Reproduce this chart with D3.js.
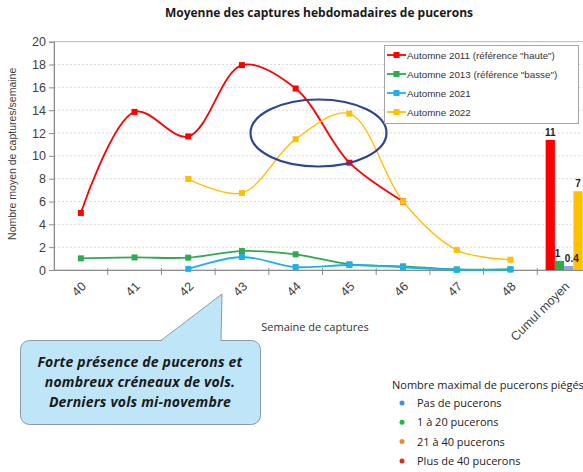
<!DOCTYPE html>
<html><head><meta charset="utf-8">
<script src="https://cdn.jsdelivr.net/npm/d3@7"></script>
<style>body{margin:0;background:#fff}svg{display:block}</style>
</head><body>
<script>
// ---- data ----
const weeks = ["40","41","42","43","44","45","46","47","48"];
const categories = ["40","41","42","43","44","45","46","47","48","Cumul moyen"];
const seriesNames = ["Automne 2011 (référence \"haute\")","Automne 2013 (référence \"basse\")","Automne 2021","Automne 2022"];
const s2011 = [5.0, 13.85, 11.7, 17.95, 15.9, 9.4, 6.0, null, null];
const s2013 = [1.02, 1.1, 1.08, 1.66, 1.37, 0.5, 0.32, 0.05, 0.05];
const s2021 = [null, null, 0.1, 1.14, 0.26, 0.44, 0.24, 0.02, 0.06];
const s2022 = [null, null, 7.97, 6.75, 11.46, 13.7, 6.0, 1.75, 0.9];
const cumulValues = [11.4, 0.8, 0.35, 6.9];
const cumulLabels = ["11", "1", "0.4", "7"];
const yTicks = [0,2,4,6,8,10,12,14,16,18,20];
const calloutLines = ["Forte présence de pucerons et","nombreux créneaux de vols.","Derniers vols mi-novembre"];
const legend2Title = "Nombre maximal de pucerons piégés";
const legend2Items = ["Pas de pucerons","1 à 20 pucerons","21 à 40 pucerons","Plus de 40 pucerons"];

const lineColors = ["#FF0000","#2EAA50","#1CB2EC","#FFC000"];
const barColors = ["#FF0000","#2EAA50","#8FA6D8","#FFC000"];
const legend2Colors = ["#3D8FE0","#1DB64A","#F08A24","#D9301E"];

(function(){
const W = 583, H = 472;
const svg = d3.select("body").append("svg").attr("width", W).attr("height", H)
  .style("font-family","'Liberation Sans', Arial, sans-serif");

const pL = 54, pR = 591, pT = 41.7, pB = 270;
const x = d3.scaleBand().domain(categories).range([pL, pR]).padding(0);
const y = d3.scaleLinear().domain([0, 20]).range([pB, pT]);
const cx = c => x(c) + x.bandwidth()/2;

// title
svg.append("text").attr("x", 319).attr("y", 17).attr("text-anchor","middle")
  .style("font-family","'Open Sans', sans-serif").style("font-weight","bold").style("font-size","12px")
  .attr("fill","#1a1a1a").text("Moyenne des captures hebdomadaires de pucerons");

// gridlines
svg.append("g").selectAll("line").data(yTicks.filter(t => t>0 && t<20)).join("line")
  .attr("x1", pL).attr("x2", pR).attr("y1", d=>y(d)).attr("y2", d=>y(d))
  .attr("stroke","#cfcfcf").attr("stroke-dasharray","2,2").attr("stroke-width",0.8);
svg.append("rect").attr("x", pL).attr("y", pT).attr("width", pR-pL).attr("height", pB-pT)
  .attr("fill","none").attr("stroke","#b8b8b8").attr("stroke-width",1);

// y axis
const yAxis = d3.axisLeft(y).tickValues(yTicks).tickSize(5).tickPadding(3);
const gy = svg.append("g").attr("transform",`translate(${pL},0)`).call(yAxis);
gy.select(".domain").attr("stroke","#8c8c8c");
gy.selectAll(".tick line").attr("stroke","#8c8c8c");
gy.selectAll(".tick text").attr("fill","#404040").style("font-size","12.5px").style("font-family","'Liberation Sans', Arial, sans-serif");

// x axis
const xAxis = d3.axisBottom(x).tickSize(0).tickFormat(d=>d);
const gx = svg.append("g").attr("transform",`translate(0,${pB})`).call(xAxis);
gx.select(".domain").attr("stroke","#8c8c8c");
gx.selectAll(".tick text")
  .attr("fill","#404040").style("font-size","12.5px").style("font-family","'Liberation Sans', Arial, sans-serif")
  .attr("text-anchor","end").attr("dy", "0.35em").attr("x",0).attr("y",0)
  .attr("transform","translate(3,14) rotate(-45)");
svg.append("g").selectAll("line").data(categories.slice(1)).join("line")
  .attr("x1", d=>x(d)).attr("x2", d=>x(d)).attr("y1", pB-2).attr("y2", pB+5)
  .attr("stroke","#8c8c8c");

// axis titles
svg.append("text").attr("transform",`translate(16,${(pT+pB)/2 - 2}) rotate(-90)`).attr("text-anchor","middle")
  .style("font-size","10.5px").attr("fill","#404040").text("Nombre moyen de captures/semaine");
svg.append("text").attr("x", 315).attr("y", 331).attr("text-anchor","middle")
  .style("font-family","'Open Sans', sans-serif").style("font-size","11px").attr("fill","#333").text("Semaine de captures");

// bars
const xb = d3.scaleBand().domain(d3.range(cumulValues.length)).range([0, x.bandwidth()]).paddingOuter(0.9).paddingInner(0);
const gb = svg.append("g").attr("transform",`translate(${x("Cumul moyen")},0)`);
gb.selectAll("rect").data(cumulValues).join("rect")
  .attr("x",(d,i)=>xb(i)).attr("width", xb.bandwidth()).attr("y", d=>y(d)).attr("height", d=>pB-y(d))
  .attr("fill",(d,i)=>barColors[i]);
gb.selectAll("text").data(cumulValues).join("text")
  .attr("x",(d,i)=>xb(i)+xb.bandwidth()/2 + (i===1?-2:(i===2?3:0))).attr("y", d=>y(d)-4)
  .attr("text-anchor","middle").style("font-size","10px").style("font-weight","bold").attr("fill","#222")
  .text((d,i)=>cumulLabels[i]);

// lines
const allSeries = [s2011, s2013, s2021, s2022];
const widths = [1.8, 1.8, 1.8, 1.4];
const line = d3.line().x(d=>cx(d.c)).y(d=>y(d.v)).curve(d3.curveCatmullRom.alpha(0.5));
const drawOrder = [0,3,1,2];
drawOrder.forEach(si => {
  const pts = weeks.map((c,i)=>({c, v: allSeries[si][i]})).filter(p=>p.v!==null);
  svg.append("path").datum(pts).attr("d", line).attr("fill","none")
    .attr("stroke", lineColors[si]).attr("stroke-width", widths[si]);
});
drawOrder.forEach(si => {
  const pts = weeks.map((c,i)=>({c, v: allSeries[si][i]})).filter(p=>p.v!==null);
  svg.append("g").selectAll("rect").data(pts).join("rect")
    .attr("x", d=>cx(d.c)-3).attr("y", d=>y(d.v)-3).attr("width",6).attr("height",6)
    .attr("fill", lineColors[si]);
});

// ellipse annotation
svg.append("ellipse").attr("cx", (cx("44")+cx("45"))/2 - 4).attr("cy", y(12)).attr("rx", 68).attr("ry", 33.5)
  .attr("fill","none").attr("stroke","#2F4593").attr("stroke-width",2.2);

// legend
const lg = svg.append("g");
lg.append("rect").attr("x", 384.5).attr("y", 45.5).attr("width", 194).attr("height", 78)
  .attr("fill","#fff").attr("stroke","#a6a6a6");
seriesNames.forEach((n,i)=>{
  const yy = 55 + i*19;
  lg.append("line").attr("x1",387).attr("x2",406).attr("y1",yy).attr("y2",yy).attr("stroke",lineColors[i]).attr("stroke-width",1.8);
  lg.append("rect").attr("x",393.5).attr("y",yy-3).attr("width",6).attr("height",6).attr("fill",lineColors[i]);
  lg.append("text").attr("x",407).attr("y",yy+3.5).style("font-size","9.8px").attr("fill","#333").text(n);
});

// callout
const co = svg.append("g");
co.append("rect").attr("x",20.5).attr("y",340.5).attr("width",240).attr("height",84).attr("rx",9)
  .attr("fill","#BFE6F8").attr("stroke","#8a9aa3").attr("stroke-width",1);
co.append("path").attr("d","M161,341 L222,294 L221,341 Z").attr("fill","#BFE6F8").attr("stroke","none");
co.append("path").attr("d","M161,340.5 L222,294 L221,340.5").attr("fill","none").attr("stroke","#8a9aa3").attr("stroke-width",1);
calloutLines.forEach((t,i)=>{
  co.append("text").attr("x",140).attr("y",367+i*20).attr("text-anchor","middle")
    .style("font-family","'Open Sans', sans-serif").style("font-weight","bold").style("font-style","italic")
    .style("font-size","14px").style("letter-spacing","0.2px").attr("fill","#1a1a1a").text(t);
});

// second legend
const l2 = svg.append("g");
l2.append("text").attr("x",392).attr("y",389).style("font-family","'Open Sans', sans-serif").style("font-size","11px").attr("fill","#222").text(legend2Title);
legend2Items.forEach((t,i)=>{
  const yy = 403 + i*19.3;
  l2.append("circle").attr("cx",402).attr("cy",yy).attr("r",2.5).attr("fill",legend2Colors[i]);
  l2.append("text").attr("x",417).attr("y",yy+4).style("font-family","'Open Sans', sans-serif").style("font-size","11px").attr("fill","#222").text(t);
});
})();
</script>
</body></html>
